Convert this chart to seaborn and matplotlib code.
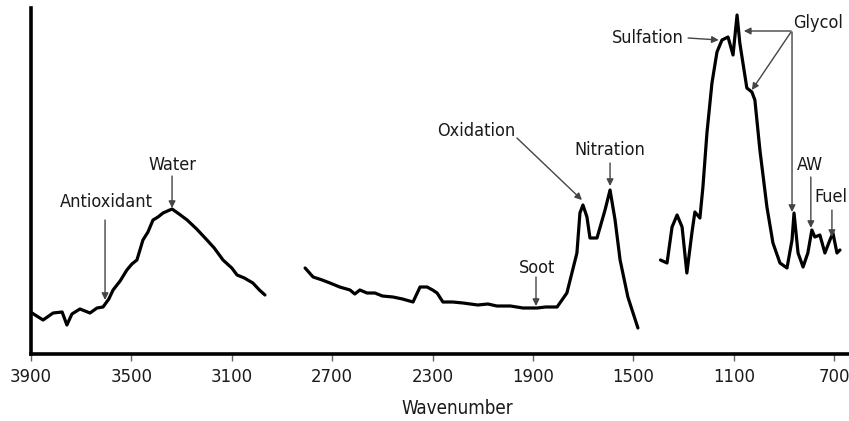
import matplotlib
matplotlib.use("Agg")
import matplotlib.pyplot as plt
import seaborn as sns
import pandas as pd

# ---- data (wavenumber, relative absorbance) ----
seg1_x = [3896, 3852, 3812, 3776, 3757, 3737, 3705, 3665, 3637, 3613, 3590, 3573,
          3545, 3518, 3498, 3478, 3454, 3434, 3414, 3394, 3374, 3338, 3310, 3278,
          3240, 3199, 3170, 3135, 3100, 3079, 3050, 3016, 2990, 2968]
seg1_y = [41, 34, 41, 42, 29, 40, 45, 41, 46, 47, 55, 64,
          73, 84, 90, 94, 114, 122, 134, 137, 141, 145, 140, 134,
          125, 114, 106, 94, 86, 79, 76, 71, 64, 59]

seg2_x = [2808, 2776, 2740, 2709, 2670, 2629, 2610, 2590, 2561, 2530, 2500, 2458,
          2420, 2378, 2350, 2322, 2300, 2282, 2259, 2220, 2179, 2120, 2080, 2044,
          1990, 1940, 1884, 1850, 1804, 1765, 1725, 1713, 1701, 1685, 1673, 1645,
          1613, 1593, 1573, 1553, 1522, 1482]
seg2_y = [86, 77, 74, 71, 67, 64, 60, 64, 61, 61, 58, 57,
          55, 52, 67, 67, 64, 61, 52, 52, 51, 49, 50, 48,
          48, 46, 46, 47, 47, 61, 101, 141, 149, 137, 116, 116,
          144, 164, 134, 94, 57, 26]

seg3_x = [1392, 1366, 1346, 1326, 1306, 1287, 1267, 1255, 1235, 1223, 1207, 1187,
          1167, 1147, 1123, 1103, 1087, 1076, 1048, 1028, 1016, 996, 968, 944,
          916, 888, 868, 860, 844, 824, 805, 789, 777, 757, 737, 717, 705, 689, 677]
seg3_y = [94, 91, 127, 139, 127, 81, 121, 142, 136, 167, 221, 271,
          302, 314, 317, 299, 339, 311, 266, 262, 254, 204, 147, 111,
          91, 86, 114, 141, 101, 87, 101, 124, 117, 119, 101, 114, 121, 101, 104]

tick_values = [3900, 3500, 3100, 2700, 2300, 1900, 1500, 1100, 700]
x_label = "Wavenumber"

# label, text centre, arrow head, arrow tail
annotations = [
    ("Water",       (3338, 189), (3338, 146), (3338, 178)),
    ("Antioxidant", (3600, 152), (3605, 54),  (3605, 134)),
    ("Soot",        (1884, 86),  (1888, 48),  (1888, 77)),
    ("Oxidation",   (2127, 223), (1705, 154), (1964, 216)),
    ("Nitration",   (1593, 204), (1593, 168), (1593, 191)),
    ("AW",          (797, 189),  (793, 126),  (793, 177)),
    ("Fuel",        (712, 157),  (709, 117),  (709, 144)),
]

sns.set_theme(style="white")
plt.rcParams['font.family'] = ['DejaVu Sans']
plt.rcParams['font.stretch'] = 'condensed'

fig = plt.figure(figsize=(8.49, 4.21), dpi=100)
ax = fig.add_axes([31/849, 67/421, 1 - 31/849, (354 - 8)/421])

for xs, ys in [(seg1_x, seg1_y), (seg2_x, seg2_y), (seg3_x, seg3_y)]:
    df = pd.DataFrame({"w": xs, "a": ys})
    sns.lineplot(data=df, x="w", y="a", ax=ax, color="black", lw=2.3,
                 sort=False, estimator=None)

ax.set_xlim(3900, 641)
ax.set_ylim(0, 346)
ax.set_xticks(tick_values)
ax.set_xticklabels([str(t) for t in tick_values], fontsize=13.2, color="#1a1a1a")
ax.set_yticks([])
ax.set_xlabel(x_label, fontsize=13.5, color="#1a1a1a")
ax.xaxis.set_label_coords((457 - 31) / 818, -0.13)
ax.set_ylabel("")
ax.tick_params(axis="x", direction="out", length=5, width=1, color="#666666",
               pad=5, bottom=True)
for s in ["top", "right"]:
    ax.spines[s].set_visible(False)
for s in ["left", "bottom"]:
    ax.spines[s].set_visible(True)
    ax.spines[s].set_color("black")
    ax.spines[s].set_linewidth(2.6)

arrow_kw = dict(arrowstyle="-|>", color="#444444", lw=1.0,
                mutation_scale=10, shrinkA=0, shrinkB=0)

for label, txy, target, start in annotations:
    ax.text(txy[0], txy[1], label, fontsize=13, ha="center", va="center",
            color="#1a1a1a")
    ax.annotate("", xy=target, xytext=start, arrowprops=arrow_kw)

ax.text(1442, 316, "Sulfation", fontsize=13, ha="center", va="center", color="#1a1a1a")
ax.annotate("", xy=(1160, 314), xytext=(1282, 316), arrowprops=arrow_kw)

ax.text(864, 331, "Glycol", fontsize=13, ha="left", va="center", color="#1a1a1a")
ax.annotate("", xy=(1060, 323), xytext=(872, 323), arrowprops=arrow_kw)
ax.annotate("", xy=(1028, 264), xytext=(872, 322), arrowprops=arrow_kw)
ax.annotate("", xy=(868, 142), xytext=(868, 322), arrowprops=arrow_kw)

fig.savefig("out.png", dpi=100)
